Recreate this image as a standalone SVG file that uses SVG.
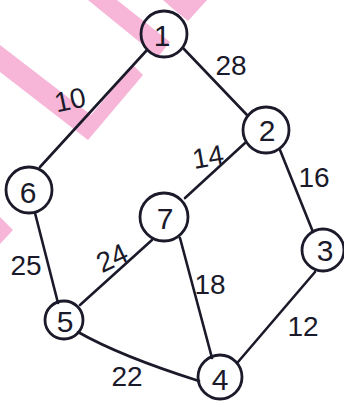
<svg xmlns="http://www.w3.org/2000/svg" width="344" height="401" viewBox="0 0 344 401">
<style>
.bg{fill:#ffffff}
.pink{fill:#f7b5d8;stroke:none}
.edge{fill:none;stroke:#1a1a2a;stroke-width:2.6;stroke-linecap:round}
.node circle{fill:none;stroke:#1a1a2a;stroke-width:2.8}
.nl{font-family:"Liberation Sans",Arial,sans-serif;font-size:30px;fill:#1a1a2a;text-anchor:middle;dominant-baseline:central}
.el{font-family:"Liberation Sans",Arial,sans-serif;font-size:28px;fill:#1a1a2a;text-anchor:middle;dominant-baseline:central}
</style>
<rect class="bg" x="0" y="0" width="344" height="401"/>
<g id="watermark">
<polygon class="pink" points="88,0 117,0 170,42 158,57"/>
<polygon class="pink" points="163,0 207,0 188,21 172,8"/>
<polygon class="pink" points="0,45 91,115 133,65 143,75 88,140 0,72"/>
<polygon class="pink" points="0,217 13,230 0,244"/>
</g>
<g id="connectors">
<path class="edge" d="M147,50 L40,167"/>
<path class="edge" d="M183,48 L247,115"/>
<path class="edge" d="M245,143 L185,198"/>
<path class="edge" d="M280,150 L313,232"/>
<path class="edge" d="M35,213 L58,303"/>
<path class="edge" d="M152,240 L80,305"/>
<path class="edge" d="M180,238 L212,358"/>
<path class="edge" d="M78,332 Q120,356 199,381"/>
<path class="edge" d="M315,272 L238,362"/>
<text class="el" x="70" y="100" transform="rotate(-12 70 100)">10</text>
<text class="el" x="231" y="65">28</text>
<text class="el" x="208" y="157" transform="rotate(-10 208 157)">14</text>
<text class="el" x="314" y="177">16</text>
<text class="el" x="26" y="265">25</text>
<text class="el" x="112" y="258" transform="rotate(-25 112 258)">24</text>
<text class="el" x="210" y="284">18</text>
<text class="el" x="303" y="326">12</text>
<text class="el" x="127" y="376">22</text>
</g>
<g id="n1" class="node"><circle cx="164" cy="34" r="23"/><text class="nl" x="162" y="35">1</text></g>
<g id="n2" class="node"><circle cx="266" cy="130" r="23"/><text class="nl" x="267" y="130">2</text></g>
<g id="n3" class="node"><circle cx="323" cy="250" r="21"/><text class="nl" x="325" y="250">3</text></g>
<g id="n4" class="node"><circle cx="220" cy="377" r="22"/><text class="nl" x="220" y="379">4</text></g>
<g id="n5" class="node"><circle cx="64" cy="320" r="19"/><text class="nl" x="65" y="321">5</text></g>
<g id="n6" class="node"><circle cx="29" cy="190" r="23"/><text class="nl" x="28" y="192">6</text></g>
<g id="n7" class="node"><circle cx="164" cy="217" r="24"/><text class="nl" x="165" y="218">7</text></g>
</svg>
